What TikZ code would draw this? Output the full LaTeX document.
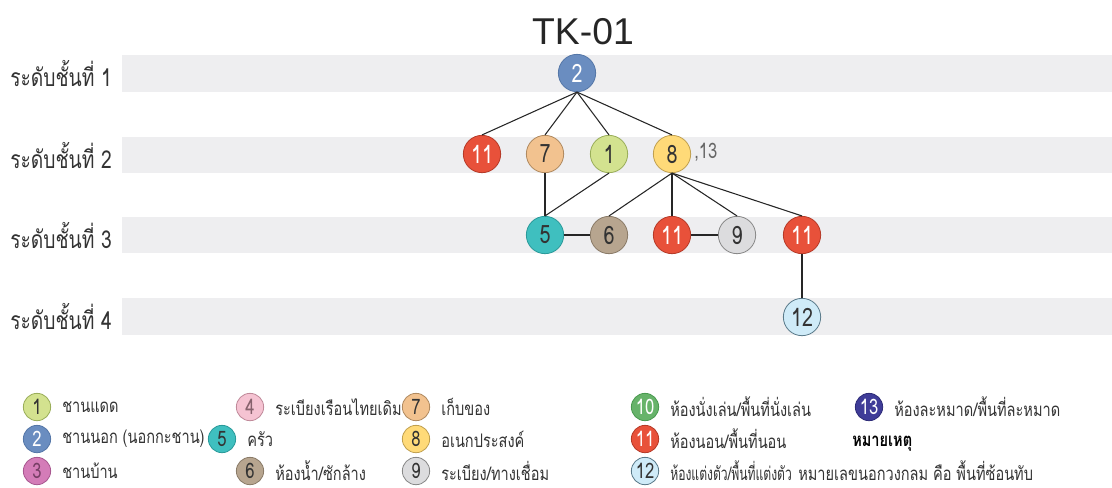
\documentclass[tikz,border=0pt]{standalone}
\usepackage{fontspec}
\setmainfont{Liberation Sans}
\newfontfamily\thai[Script=Thai,FakeStretch=0.78]{Loma}
\newfontfamily\thaicond[Script=Thai,FakeStretch=0.65]{Loma}
\definecolor{bandc}{HTML}{EEEEF0}
\definecolor{c1}{HTML}{D3E28F}\definecolor{c1d}{HTML}{9AAE5A}
\definecolor{c2}{HTML}{6A8DC0}\definecolor{c2d}{HTML}{5577A8}
\definecolor{c3}{HTML}{D47CB8}\definecolor{c3d}{HTML}{A85890}
\definecolor{c4}{HTML}{F5C3D2}\definecolor{c4d}{HTML}{C08A9A}
\definecolor{c5}{HTML}{3FBFBF}\definecolor{c5d}{HTML}{2A9A9A}
\definecolor{c6}{HTML}{B7A58F}\definecolor{c6d}{HTML}{8A7B68}
\definecolor{c7}{HTML}{F2C28F}\definecolor{c7d}{HTML}{B08A60}
\definecolor{c8}{HTML}{FFDA78}\definecolor{c8d}{HTML}{C0A050}
\definecolor{c9}{HTML}{DCDCDE}\definecolor{c9d}{HTML}{888888}
\definecolor{c10}{HTML}{67B36A}\definecolor{c10d}{HTML}{4A9A50}
\definecolor{c11}{HTML}{E8513A}\definecolor{c11d}{HTML}{B63A28}
\definecolor{c12}{HTML}{CFEBF8}\definecolor{c12d}{HTML}{5A7A8A}
\definecolor{c13}{HTML}{3F3C98}\definecolor{c13d}{HTML}{2E2C78}
\definecolor{txt}{HTML}{333333}
\begin{document}
\begin{tikzpicture}[x=0.75pt,y=-0.75pt,
  band/.style={fill=bandc},
  lvl/.style={anchor=west,inner sep=0pt,text=txt,font=\thai\fontsize{18.5}{20}\selectfont},
  gn/.style={circle,minimum size=28pt,inner sep=0pt,line width=0.6pt,text=txt,font=\thai\fontsize{19}{19}\selectfont},
  lg/.style={circle,minimum size=20.5pt,inner sep=0pt,line width=0.6pt,text=txt,font=\thai\fontsize{16}{16}\selectfont},
  lt/.style={anchor=west,inner sep=0pt,text=txt,font=\thai\fontsize{14}{15}\selectfont},
  edge/.style={draw=black!85,line width=0.8pt},
  k1/.style={fill=c1,draw=c1d},
  k2/.style={fill=c2,draw=c2d,text=white},
  k3/.style={fill=c3,draw=c3d,text=c3d!70!black},
  k4/.style={fill=c4,draw=c4d,text=c4d!70!black},
  k5/.style={fill=c5,draw=c5d},
  k6/.style={fill=c6,draw=c6d},
  k7/.style={fill=c7,draw=c7d},
  k8/.style={fill=c8,draw=c8d},
  k9/.style={fill=c9,draw=c9d},
  k10/.style={fill=c10,draw=c10d,text=white},
  k11/.style={fill=c11,draw=c11d,text=white},
  k12/.style={fill=c12,draw=c12d},
  k13/.style={fill=c13,draw=c13d,text=white}]
\useasboundingbox (0,0) rectangle (1112,487);
\begin{scope}
\clip (0,0) rectangle (1112,487);
% bands
\fill[band] (122,55) rectangle (1112,92);
\fill[band] (122,137) rectangle (1112,173);
\fill[band] (122,217) rectangle (1112,253);
\fill[band] (122,298) rectangle (1112,335);
% level labels
\node[lvl] (l1) at (10,73.5) {ระดับชั้นที่ 1};
\node[lvl] (l2) at (10,155) {ระดับชั้นที่ 2};
\node[lvl] (l3) at (10,235) {ระดับชั้นที่ 3};
\node[lvl] (l4) at (10,316) {ระดับชั้นที่ 4};
% title
\node[font=\fontsize{28}{28}\selectfont,text=black!85] (title) at (583,32) {TK-01};
% graph nodes
\node[gn,k2] (n2) at (577,73) {2};
\node[gn,k11] (a11) at (482,154) {11};
\node[gn,k7] (n7) at (545,154) {7};
\node[gn,k1] (n1) at (609,154) {1};
\node[gn,k8] (n8) at (672,154) {8};
\node[anchor=west,inner sep=0pt,text=black!60,font=\thai\fontsize{16}{16}\selectfont] (n13) at (694,152) {,13};
\node[gn,k5] (n5) at (545,235) {5};
\node[gn,k6] (n6) at (609,235) {6};
\node[gn,k11] (b11) at (672,235) {11};
\node[gn,k9] (n9) at (737,235) {9};
\node[gn,k11] (c11) at (802,235) {11};
\node[gn,k12] (n12) at (802,317) {12};
% edges
\foreach \t in {a11,n7,n1,n8} \draw[edge] (n2.south) -- (\t.north);
\draw[edge] (n7.south) -- (n5.north);
\draw[edge] (n1.south) -- (n5.north);
\foreach \t in {n6,b11,n9,c11} \draw[edge] (n8.south) -- (\t.north);
\draw[edge] (n5) -- (n6);
\draw[edge] (b11) -- (n9);
\draw[edge] (c11) -- (n12);
% legend
\node[lg,k1] (g1) at (37,407) {1}; \node[lt] (t1) at (62,407) {ชานแดด};
\node[lg,k2] (g2) at (37,439) {2}; \node[lt] (t2) at (62,439) {ชานนอก (นอกกะชาน)};
\node[lg,k3] (g3) at (37,471) {3}; \node[lt] (t3) at (62,471) {ชานบ้าน};
\node[lg,k4] (g4) at (250,407) {4}; \node[lt] (t4) at (275,407) {ระเบียงเรือนไทยเดิม};
\node[lg,k5] (g5) at (222,439) {5}; \node[lt] (t5) at (247,439) {ครัว};
\node[lg,k6] (g6) at (250,471) {6}; \node[lt] (t6) at (275,471) {ห้องน้ำ/ซักล้าง};
\node[lg,k7] (g7) at (416,407) {7}; \node[lt] (t7) at (441,407) {เก็บของ};
\node[lg,k8] (g8) at (416,439) {8}; \node[lt] (t8) at (441,439) {อเนกประสงค์};
\node[lg,k9] (g9) at (416,471) {9}; \node[lt] (t9) at (441,471) {ระเบียง/ทางเชื่อม};
\node[lg,k10] (g10) at (645,407) {10}; \node[lt] (t10) at (670,407) {ห้องนั่งเล่น/พื้นที่นั่งเล่น};
\node[lg,k11] (g11) at (645,439) {11}; \node[lt] (t11) at (670,439) {ห้องนอน/พื้นที่นอน};
\node[lg,k12] (g12) at (645,471) {12}; \node[lt,font=\thaicond\fontsize{14}{15}\selectfont] (t12) at (670,471) {ห้องแต่งตัว/พื้นที่แต่งตัว};
\node[lg,k13] (g13) at (869,407) {13}; \node[lt] (t13) at (894,407) {ห้องละหมาด/พื้นที่ละหมาด};
\node[lt,font=\thai\bfseries\fontsize{14}{15}\selectfont,text=black] (note) at (852,444) {หมายเหตุ};
\node[lt] (notet) at (798,471) {หมายเลขนอกวงกลม คือ พื้นที่ซ้อนทับ};
\end{scope}
\end{tikzpicture}
\end{document}
